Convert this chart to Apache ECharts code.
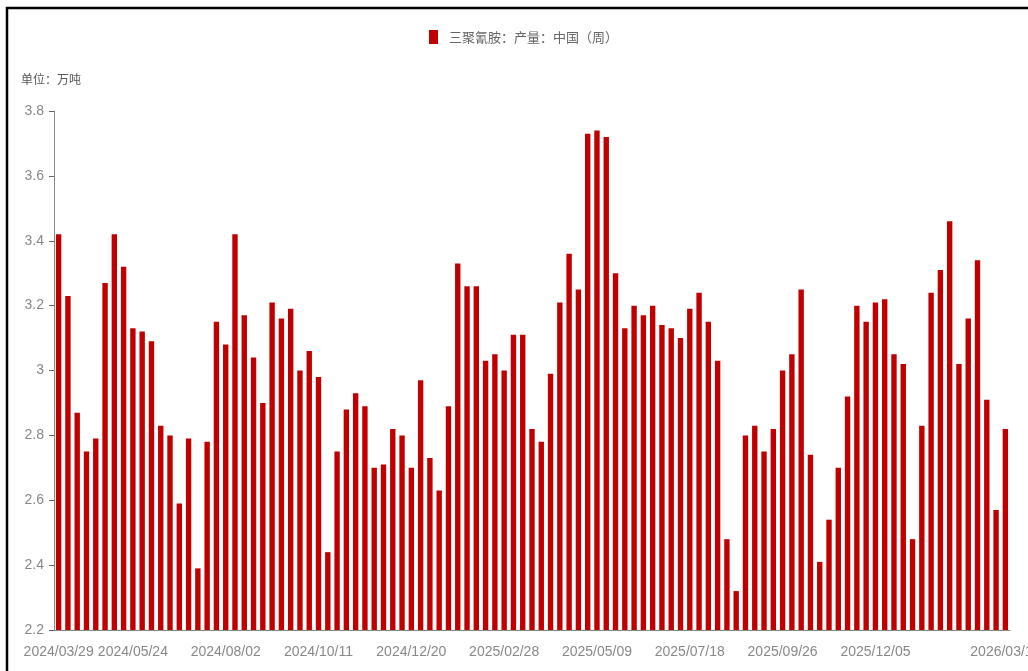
<!DOCTYPE html>
<html>
<head>
<meta charset="utf-8">
<title>三聚氰胺产量</title>
<script src="https://cdn.jsdelivr.net/npm/echarts@6/dist/echarts.min.js"></script>
<style>
    html, body { margin: 0; padding: 0; background: #fff; }
    #chart { width: 1028px; height: 671px; }
</style>
</head>
<body>
<div id="chart"></div>
<script>
// weekly data, 2024/03/29 .. 2026/03/13
const startDate = '2024/03/29';
const weekCount = 103;

const output = [
    3.42, 3.23, 2.87, 2.75, 2.79, 3.27, 3.42, 3.32, 3.13, 3.12,
    3.09, 2.83, 2.80, 2.59, 2.79, 2.39, 2.78, 3.15, 3.08, 3.42,
    3.17, 3.04, 2.90, 3.21, 3.16, 3.19, 3.00, 3.06, 2.98, 2.44,
    2.75, 2.88, 2.93, 2.89, 2.70, 2.71, 2.82, 2.80, 2.70, 2.97,
    2.73, 2.63, 2.89, 3.33, 3.26, 3.26, 3.03, 3.05, 3.00, 3.11,
    3.11, 2.82, 2.78, 2.99, 3.21, 3.36, 3.25, 3.73, 3.74, 3.72,
    3.30, 3.13, 3.20, 3.17, 3.20, 3.14, 3.13, 3.10, 3.19, 3.24,
    3.15, 3.03, 2.48, 2.32, 2.80, 2.83, 2.75, 2.82, 3.00, 3.05,
    3.25, 2.74, 2.41, 2.54, 2.70, 2.92, 3.20, 3.15, 3.21, 3.22,
    3.05, 3.02, 2.48, 2.83, 3.24, 3.31, 3.46, 3.02, 3.16, 3.34,
    2.91, 2.57, 2.82
];

// build weekly date labels
function getWeekLabels(start, count) {
    const labels = [];
    const d = new Date(start);
    for (let i = 0; i < count; i++) {
        const m = ('0' + (d.getMonth() + 1)).slice(-2);
        const day = ('0' + d.getDate()).slice(-2);
        labels.push(d.getFullYear() + '/' + m + '/' + day);
        d.setDate(d.getDate() + 7);
    }
    return labels;
}

const weeks = getWeekLabels(startDate, weekCount);
const lastIdx = weekCount - 1;

const axisFont = "'Liberation Sans', sans-serif";

var chart = echarts.init(document.getElementById('chart'));

option = {
    animation: false,
    backgroundColor: '#fff',
    title: {
        text: '单位：万吨',
        left: 16,
        top: 68,
        textStyle: {
            fontFamily: 'Noto Sans CJK SC',
            fontSize: 12,
            fontWeight: 'normal',
            color: '#555'
        }
    },
    legend: {
        data: ['三聚氰胺：产量：中国（周）'],
        left: 424,
        top: 25,
        icon: 'rect',
        itemWidth: 9,
        itemHeight: 14,
        textStyle: {
            fontFamily: 'Noto Sans CJK SC',
            fontSize: 13,
            color: '#666',
            padding: [0, 0, 0, 6]
        }
    },
    grid: {
        left: 54,
        right: 18,
        top: 111,
        bottom: 41,
        outerBoundsMode: 'none'
    },
    graphic: [{
        type: 'rect',
        shape: { x: 7, y: 8, width: 1100, height: 700 },
        style: { fill: 'none', stroke: '#000', lineWidth: 2.5 },
        silent: true
    }],
    xAxis: {
        type: 'category',
        data: weeks,
        axisLine: { lineStyle: { color: '#888' } },
        axisTick: {
            length: 5,
            lineStyle: { color: '#666' },
            interval: function(index) {
                return index === 0 || index % 10 === 8;
            }
        },
        axisLabel: {
            margin: 15,
            fontFamily: axisFont,
            fontSize: 14,
            color: '#888',
            showMinLabel: true,
            showMaxLabel: true,
            hideOverlap: false,
            interval: function(index) {
                return index === 0 || (index % 10 === 8 && index < 98) || index === lastIdx;
            }
        }
    },
    yAxis: {
        type: 'value',
        min: 2.2,
        max: 3.8,
        interval: 0.2,
        splitLine: { show: false },
        axisLine: { show: true, lineStyle: { color: '#888' } },
        axisTick: { show: true, length: 5, lineStyle: { color: '#666' } },
        axisLabel: {
            margin: 10,
            fontFamily: axisFont,
            fontSize: 14,
            color: '#888'
        }
    },
    series: [{
        name: '三聚氰胺：产量：中国（周）',
        type: 'bar',
        data: output,
        barWidth: '58%',
        itemStyle: { color: '#C00000' }
    }]
};

chart.setOption(option);
</script>
</body>
</html>
